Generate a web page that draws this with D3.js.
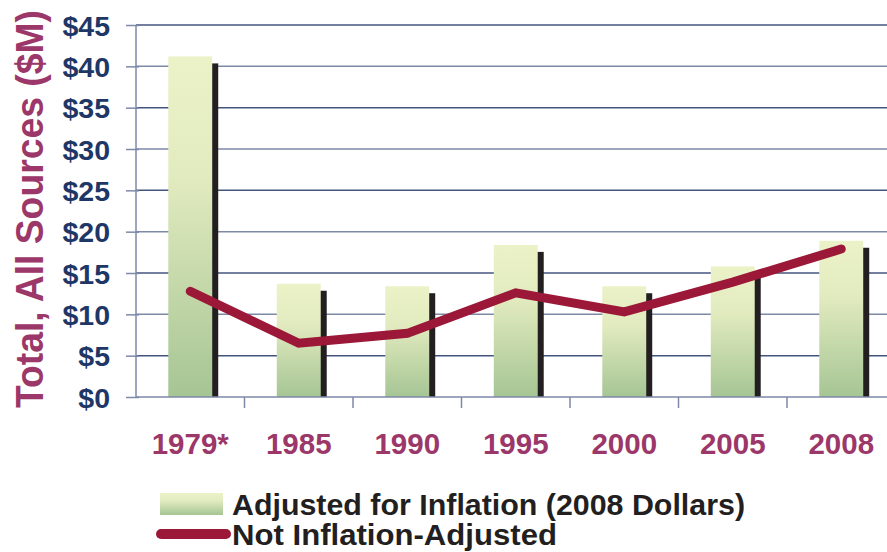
<!DOCTYPE html>
<html>
<head>
<meta charset="utf-8">
<script src="https://cdn.jsdelivr.net/npm/d3@7"></script>
<style>
  body { margin: 0; background: #fff; }
  svg { display: block; font-family: "Liberation Sans", Arial, sans-serif; }
</style>
</head>
<body>
<div id="zone"></div>
<script>
(function() {
  "use strict";

  // données
  var years = ["1979*", "1985", "1990", "1995", "2000", "2005", "2008"];
  var adjusted = [41.2, 13.7, 13.4, 18.4, 13.4, 15.8, 18.9];   // dollars 2008
  var nominal = [12.8, 6.5, 7.7, 12.6, 10.3, 13.9, 17.9];      // non ajusté
  var yTicks = [0, 5, 10, 15, 20, 25, 30, 35, 40, 45];

  var width = 887, height = 552;
  var left = 136, right = 895.5, top = 25, bottom = 397;

  var svg = d3.select("#zone").append("svg")
    .attr("width", width)
    .attr("height", height);

  var defs = svg.append("defs");
  var grad = defs.append("linearGradient")
    .attr("id", "barGrad")
    .attr("x1", 0).attr("y1", 0).attr("x2", 0).attr("y2", 1);
  grad.append("stop").attr("offset", "0%").attr("stop-color", "#ecf2c8");
  grad.append("stop").attr("offset", "35%").attr("stop-color", "#e2ebbf");
  grad.append("stop").attr("offset", "100%").attr("stop-color", "#a6c594");

  var x = d3.scaleBand().domain(years).range([left, right]).padding(0);
  var y = d3.scaleLinear().domain([0, 45]).range([bottom, top]);

  var barW = x.bandwidth() * 0.405;

  // grille horizontale
  svg.append("g")
    .selectAll("line")
    .data(yTicks.filter(function(t) { return t > 0; }))
    .join("line")
    .attr("x1", left).attr("x2", width)
    .attr("y1", function(d) { return y(d); })
    .attr("y2", function(d) { return y(d); })
    .attr("stroke", function(d, i) { return i % 2 ? "#7d89a6" : "#43557e"; })
    .attr("stroke-width", 1.5);

  // axe Y
  var yAxis = svg.append("g")
    .attr("transform", "translate(" + left + ",0)")
    .call(d3.axisLeft(y).tickValues(yTicks).tickSize(10).tickFormat(function(d) { return "$" + d; }));
  yAxis.select(".domain").attr("stroke", "#7d89a6").attr("stroke-width", 1.5).attr("d", "M0," + top + "V" + bottom);
  yAxis.selectAll(".tick line").attr("stroke", "#7d89a6").attr("stroke-width", 1.5).attr("x2", 3).attr("x1", -10);
  yAxis.selectAll(".tick text")
    .attr("x", -26)
    .attr("dy", "0.36em")
    .attr("fill", "#1e3766")
    .attr("font-size", 28.5)
    .attr("font-weight", "bold")
    .attr("font-family", "Liberation Sans, Arial, sans-serif");

  // titre de l'axe Y
  svg.append("text")
    .attr("transform", "translate(43,209) rotate(-90)")
    .attr("text-anchor", "middle")
    .attr("fill", "#9c3769")
    .attr("font-size", 38)
    .attr("font-weight", "bold")
    .attr("textLength", 398)
    .attr("lengthAdjust", "spacingAndGlyphs")
    .text("Total, All Sources ($M)");

  // ombres des barres
  svg.append("g")
    .selectAll("rect")
    .data(adjusted)
    .join("rect")
    .attr("x", function(d, i) { return x(years[i]) + x.bandwidth() / 2 - barW / 2 + 6; })
    .attr("y", function(d) { return y(d) + 7; })
    .attr("width", barW)
    .attr("height", function(d) { return bottom - y(d) - 7; })
    .attr("fill", "#231f20");

  // barres ajustées
  svg.append("g")
    .selectAll("rect")
    .data(adjusted)
    .join("rect")
    .attr("x", function(d, i) { return x(years[i]) + x.bandwidth() / 2 - barW / 2; })
    .attr("y", function(d) { return y(d); })
    .attr("width", barW)
    .attr("height", function(d) { return bottom - y(d); })
    .attr("fill", "url(#barGrad)");

  // axe X
  var xAxis = svg.append("g")
    .attr("transform", "translate(0," + bottom + ")");
  xAxis.append("line")
    .attr("x1", left).attr("x2", width)
    .attr("stroke", "#7d89a6").attr("stroke-width", 1.5);
  xAxis.selectAll(".sep")
    .data(years.slice(1))
    .join("line")
    .attr("class", "sep")
    .attr("x1", function(d) { return x(d); })
    .attr("x2", function(d) { return x(d); })
    .attr("y1", 0).attr("y2", 11)
    .attr("stroke", "#7d89a6").attr("stroke-width", 1.5);
  xAxis.selectAll("text")
    .data(years)
    .join("text")
    .attr("x", function(d) { return x(d) + x.bandwidth() / 2; })
    .attr("y", 57)
    .attr("text-anchor", "middle")
    .attr("fill", "#9c3769")
    .attr("font-size", 29.5)
    .attr("font-weight", "bold")
    .text(function(d) { return d; });

  // courbe non ajustée
  var line = d3.line()
    .x(function(d, i) { return x(years[i]) + x.bandwidth() / 2; })
    .y(function(d) { return y(d); });

  svg.append("path")
    .datum(nominal)
    .attr("d", line)
    .attr("fill", "none")
    .attr("stroke", "#9b1838")
    .attr("stroke-width", 9)
    .attr("stroke-linejoin", "miter")
    .attr("stroke-linecap", "round");

  // légende
  var legend = svg.append("g");
  legend.append("rect")
    .attr("x", 160).attr("y", 493)
    .attr("width", 63).attr("height", 22)
    .attr("fill", "url(#barGrad)");
  legend.append("text")
    .attr("x", 232).attr("y", 515)
    .attr("font-size", 30).attr("font-weight", "bold")
    .attr("fill", "#231f20")
    .attr("textLength", 513)
    .attr("lengthAdjust", "spacingAndGlyphs")
    .text("Adjusted for Inflation (2008 Dollars)");
  legend.append("line")
    .attr("x1", 161).attr("x2", 226)
    .attr("y1", 534).attr("y2", 534)
    .attr("stroke", "#9b1838").attr("stroke-width", 10)
    .attr("stroke-linecap", "round");
  legend.append("text")
    .attr("x", 232).attr("y", 545)
    .attr("font-size", 30).attr("font-weight", "bold")
    .attr("fill", "#231f20")
    .attr("textLength", 325)
    .attr("lengthAdjust", "spacingAndGlyphs")
    .text("Not Inflation-Adjusted");

})();
</script>
</body>
</html>
